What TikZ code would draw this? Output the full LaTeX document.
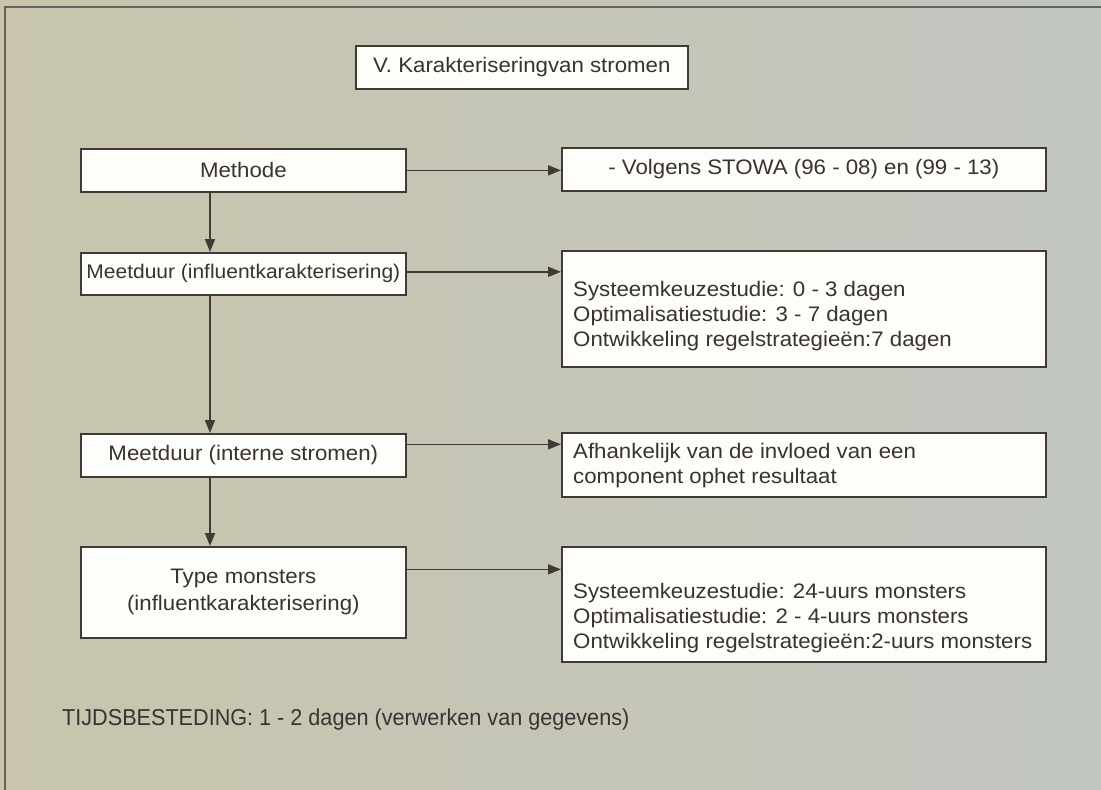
\documentclass[tikz,border=0pt]{standalone}
\usepackage{fontspec}
\setmainfont[FakeStretch=1.06]{Liberation Sans}
\newfontfamily\narrowfont[FakeStretch=0.94]{Liberation Sans}
\usetikzlibrary{arrows.meta}

\definecolor{paperleft}{RGB}{200,197,172}
\definecolor{papermid}{RGB}{208,204,170}
\definecolor{paperright}{RGB}{194,198,193}
\definecolor{ink}{RGB}{66,56,54}
\definecolor{textink}{RGB}{58,50,50}
\definecolor{boxfill}{RGB}{253,253,250}

\tikzset{
  box/.style={draw=ink, line width=1.7pt, fill=boxfill, text=textink,
              inner sep=0pt, anchor=north west},
  leftbox/.style={box, minimum width=325pt, align=center},
  rightbox/.style={box, minimum width=484pt},
  listtext/.style={anchor=west, inner sep=0pt, text=textink, align=left},
  arr/.style={draw=ink, line width=1.6pt, -{Triangle[length=13pt,width=10pt]}},
  frame/.style={draw=ink!80, line width=1.5pt}
}

\begin{document}
\begin{tikzpicture}[x=1pt, y=-1pt, font=\fontsize{21}{25}\selectfont]
  \useasboundingbox (0,0) rectangle (1101,790);
  % textured paper backdrop and its frame
  \shade[left color=paperleft, middle color=papermid, right color=paperright]
    (0,0) rectangle (1101,790);
  \draw[frame] (5,790) -- (5,7) -- (1101,7);

  % heading
  \node[box, minimum width=332pt, minimum height=43pt] (titel) at (355,45)
    {V. Karakteriseringvan stromen};

  % left column
  \node[leftbox, minimum height=43pt] (methode) at (80,148) {Methode};
  \node[leftbox, minimum height=42pt, font=\fontsize{19.8}{25}\selectfont] (duur1) at (80,252)
    {Meetduur (influentkarakterisering)};
  \node[leftbox, minimum height=43pt] (duur2) at (80,433)
    {Meetduur (interne stromen)};
  \node[leftbox, minimum height=91pt, font=\fontsize{21}{27}\selectfont] (type) at (80,546)
    {Type monsters\\(influentkarakterisering)};

  % right column
  \node[rightbox, minimum height=43pt] (stowa) at (561,147)
    {- Volgens STOWA (96 - 08) en (99 - 13)};
  \node[rightbox, minimum height=116pt] (keuze1) at (561,250) {};
  \node[listtext] (keuze1txt) at ([xshift=12pt, yshift=-7pt]keuze1.west)
    {Systeemkeuzestudie: 0 - 3 dagen\\
     Optimalisatiestudie: 3 - 7 dagen\\
     Ontwikkeling regelstrategieën:7 dagen};
  \node[rightbox, minimum height=64pt] (afh) at (561,432) {};
  \node[listtext] (afhtxt) at ([xshift=12pt, yshift=-1pt]afh.west)
    {Afhankelijk van de invloed van een\\
     component ophet resultaat};
  \node[rightbox, minimum height=115pt] (keuze2) at (561,546) {};
  \node[listtext] (keuze2txt) at ([xshift=12pt, yshift=-14pt]keuze2.west)
    {Systeemkeuzestudie: 24-uurs monsters\\
     Optimalisatiestudie: 2 - 4-uurs monsters\\
     Ontwikkeling regelstrategieën:2-uurs monsters};

  % vertical spine of the left column
  \coordinate (spine) at (210,0);
  \draw[arr] (methode.south -| spine) -- (duur1.north -| spine);
  \draw[arr] (duur1.south -| spine) -- (duur2.north -| spine);
  \draw[arr] (duur2.south -| spine) -- (type.north -| spine);

  % links to the right column
  \draw[arr] (methode.east) -- (methode.east -| stowa.west);
  \draw[arr] ([yshift=2pt]duur1.east) -- ([yshift=2pt]duur1.east -| keuze1.west);
  \draw[arr] ([yshift=11pt]duur2.east) -- ([yshift=11pt]duur2.east -| afh.west);
  \draw[arr] ([yshift=23pt]type.east) -- ([yshift=23pt]type.east -| keuze2.west);

  % footnote
  \node[anchor=west, inner sep=0pt, text=textink, font=\narrowfont\fontsize{23}{26}\selectfont]
    (tijd) at (62,720) {TIJDSBESTEDING: 1 - 2 dagen (verwerken van gegevens)};
\end{tikzpicture}
\end{document}
